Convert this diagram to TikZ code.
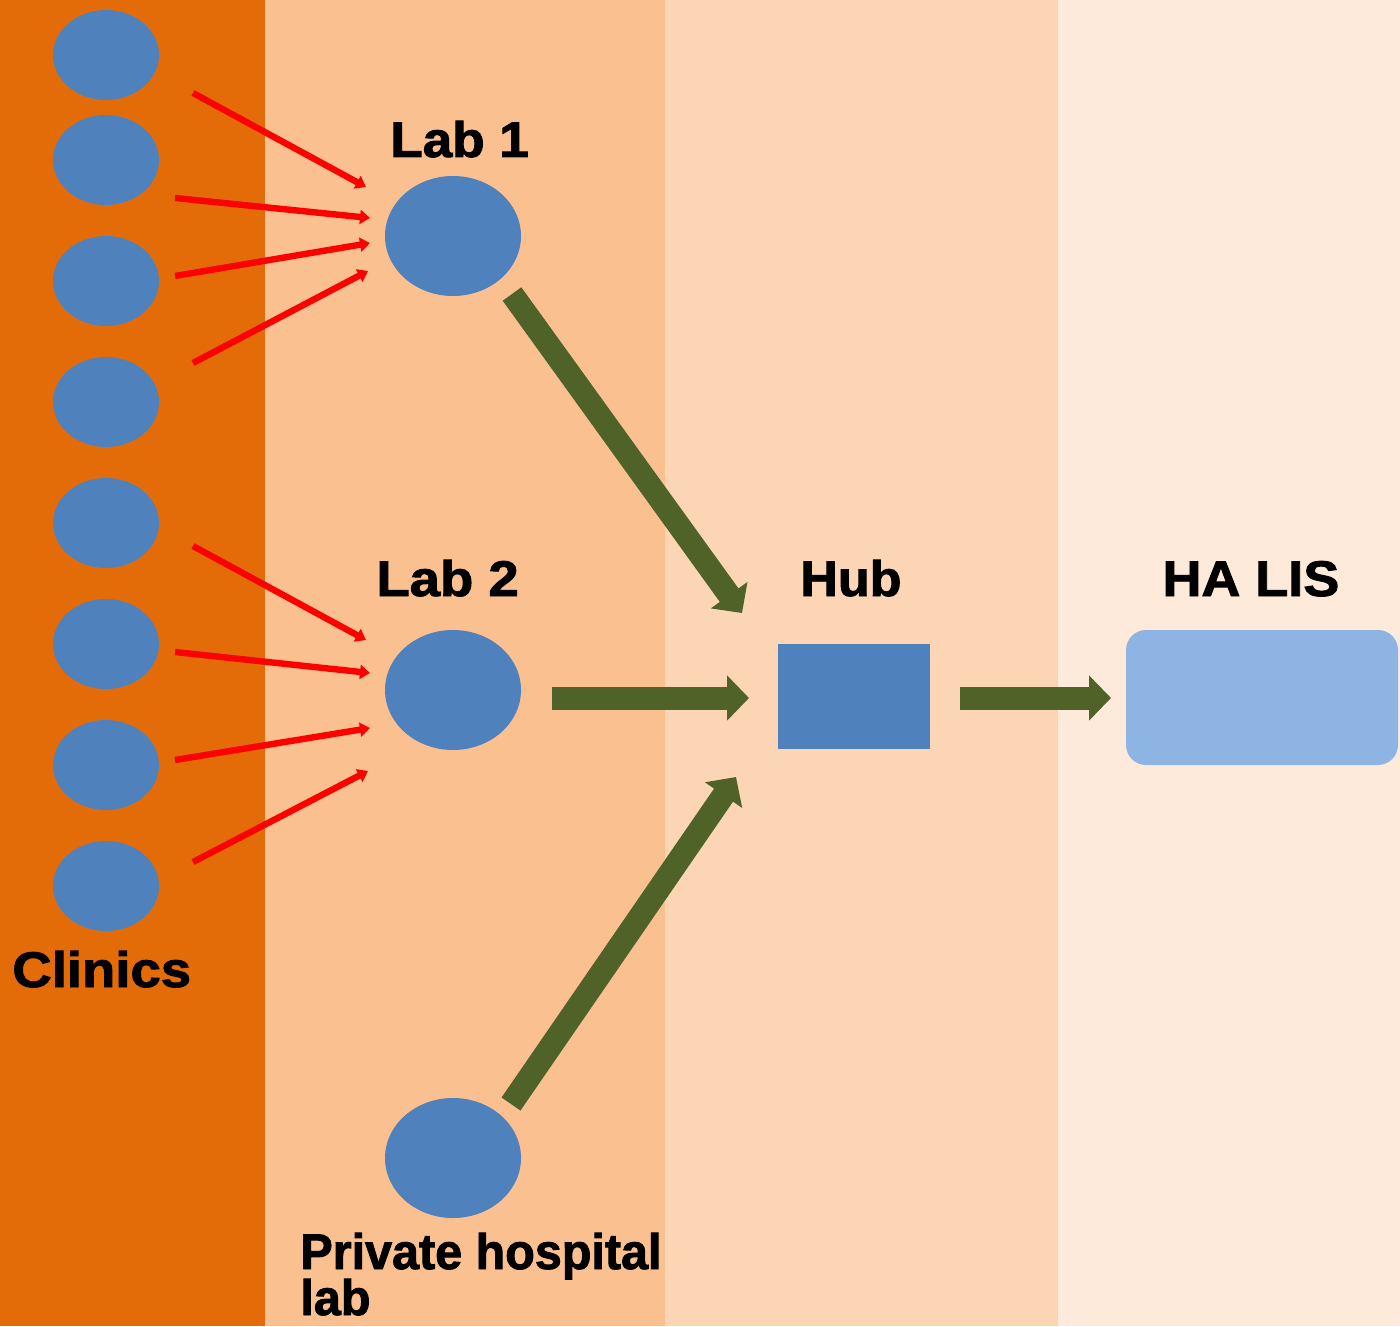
\documentclass[tikz,border=0pt]{standalone}
\usepackage{fontspec}
\usepackage{graphicx}
\setmainfont{Liberation Sans}
\newfontfamily\heavyfont[FakeBold=1.8]{Liberation Sans Bold}
\usetikzlibrary{arrows.meta,shapes.geometric}
\definecolor{bandA}{HTML}{E36C09}
\definecolor{bandB}{HTML}{FAC090}
\definecolor{bandC}{HTML}{FCD5B5}
\definecolor{bandD}{HTML}{FDEADA}
\definecolor{nodeblue}{HTML}{4F81BD}
\definecolor{lisblue}{HTML}{8EB4E3}
\definecolor{arrowgreen}{HTML}{4F6228}
\begin{document}
\begin{tikzpicture}[x=0.5pt,y=-0.5pt,
  clinic/.style={ellipse,fill=nodeblue,minimum width=53pt,minimum height=45pt,inner sep=0pt},
  lab/.style={ellipse,fill=nodeblue,minimum width=68pt,minimum height=60pt,inner sep=0pt},
  lbl/.style={anchor=base west,inner sep=0pt,font=\heavyfont\fontsize{25pt}{25pt}\selectfont},
  redarrow/.style={draw=red,line width=3.2pt,-{Triangle[length=5pt,width=7pt]}},
  greenarrow/.style={draw=arrowgreen,line width=11.5pt,-{Triangle[length=11pt,width=22pt]}}
]
\useasboundingbox (0,0) rectangle (1400,1326);
% bands
\fill[bandA] (0,0) rectangle (265,1326);
\fill[bandB] (265,0) rectangle (665,1326);
\fill[bandC] (665,0) rectangle (1058,1326);
\fill[bandD] (1058,0) rectangle (1400,1326);
% clinics
\node[clinic] (c1) at (106,55) {};
\node[clinic] (c2) at (106,160) {};
\node[clinic] (c3) at (106,281) {};
\node[clinic] (c4) at (106,402) {};
\node[clinic] (c5) at (106,523) {};
\node[clinic] (c6) at (106,644) {};
\node[clinic] (c7) at (106,765) {};
\node[clinic] (c8) at (106,886) {};
% labs
\node[lab] (lab1) at (453,236) {};
\node[lab] (lab2) at (453,690) {};
\node[lab] (priv) at (453,1158) {};
% hub and LIS
\node[fill=nodeblue,minimum width=76pt,minimum height=52.5pt,inner sep=0pt] (hub) at (854,696.5) {};
\node[fill=lisblue,rounded corners=10pt,minimum width=136pt,minimum height=67.5pt,inner sep=0pt] (lis) at (1262,697.5) {};
% labels
\node[lbl] (tlab1) at (390,157) {\scalebox{1.06}[1]{Lab 1}};
\node[lbl] (tlab2) at (376,596) {\scalebox{1.09}[1]{Lab 2}};
\node[lbl] (thub) at (800,596) {\scalebox{1.04}[1]{Hub}};
\node[lbl] (tlis) at (1162,596) {\scalebox{1.08}[1]{HA LIS}};
\node[lbl] (tclin) at (12,987) {\scalebox{1.09}[1]{Clinics}};
\node[lbl] (tpriv) at (300,1269) {\scalebox{0.97}[1]{Private hospital}};
\node[lbl] (tprivb) at (300,1315) {\scalebox{0.97}[1]{lab}};
% red arrow endpoints
\coordinate (r1s) at (193,93);  \coordinate (r1e) at (366,187);
\coordinate (r2s) at (175,198); \coordinate (r2e) at (370,218);
\coordinate (r3s) at (175,276); \coordinate (r3e) at (370,243);
\coordinate (r4s) at (193,363); \coordinate (r4e) at (368,271);
\coordinate (r5s) at (193,546); \coordinate (r5e) at (366,640);
\coordinate (r6s) at (175,652); \coordinate (r6e) at (370,673);
\coordinate (r7s) at (175,760); \coordinate (r7e) at (370,728);
\coordinate (r8s) at (193,862); \coordinate (r8e) at (368,771);
\foreach \i in {1,...,8} {\draw[redarrow] (r\i s) -- (r\i e);}
% green arrows
\coordinate (g1s) at (512,294); \coordinate (g1e) at (742,613);
\coordinate (g2s) at (552,698); \coordinate (g2e) at (749,698);
\coordinate (g3s) at (511,1104); \coordinate (g3e) at (736,777);
\coordinate (g4s) at (960,698); \coordinate (g4e) at (1111,698);
\draw[greenarrow] (g1s) -- (g1e);
\draw[greenarrow] (g2s) -- (g2e);
\draw[greenarrow] (g3s) -- (g3e);
\draw[greenarrow] (g4s) -- (g4e);
\end{tikzpicture}
\end{document}
